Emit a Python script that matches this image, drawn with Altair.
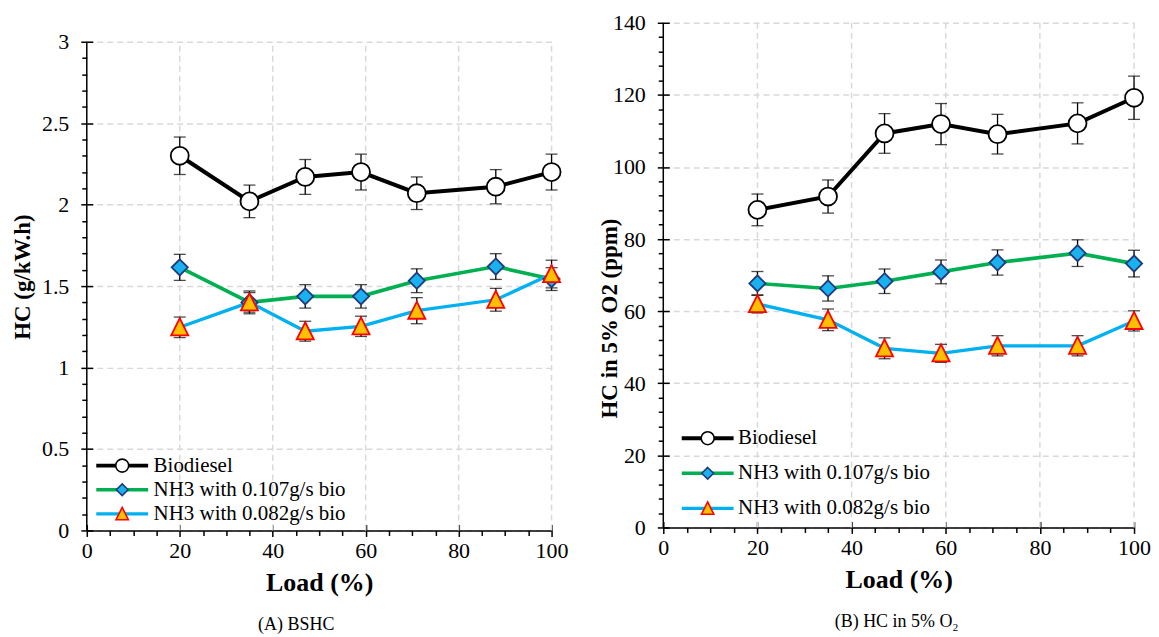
import altair as alt
import pandas as pd

loads = [20, 35, 47, 59, 71, 88, 100]
names = ["Biodiesel", "NH3 with 0.107g/s bio", "NH3 with 0.082g/s bio"]

# Panel A: BSHC (g/kW.h)
bshc_bio = [2.30, 2.02, 2.17, 2.20, 2.07, 2.11, 2.20]
bshc_bio_err = [0.115, 0.10, 0.107, 0.11, 0.10, 0.105, 0.11]
bshc_107 = [1.615, 1.40, 1.437, 1.437, 1.533, 1.62, 1.543]
bshc_107_err = [0.08, 0.07, 0.072, 0.072, 0.073, 0.079, 0.07]
bshc_082 = [1.247, 1.40, 1.223, 1.253, 1.349, 1.416, 1.574]
bshc_082_err = [0.063, 0.06, 0.061, 0.062, 0.08, 0.07, 0.085]

# Panel B: HC in 5% O2 (ppm)
hc_bio = [88.1, 91.8, 109.3, 111.9, 109.1, 112.1, 119.2]
hc_bio_err = [4.4, 4.6, 5.5, 5.7, 5.5, 5.7, 6.0]
hc_107 = [67.7, 66.3, 68.3, 70.9, 73.5, 76.1, 73.2]
hc_107_err = [3.3, 3.5, 3.4, 3.3, 3.5, 3.7, 3.7]
hc_082 = [62.0, 57.6, 49.7, 48.3, 50.4, 50.4, 57.3]
hc_082_err = [2.5, 3.0, 2.9, 2.5, 2.8, 2.8, 2.8]

x_major = [0, 20, 40, 60, 80, 100]
x_minor = [v for v in range(5, 100, 5) if v % 20]
ya_major = [0, 0.5, 1, 1.5, 2, 2.5, 3]
ya_minor = [round(i * 0.1, 1) for i in range(1, 30) if i % 5]
yb_major = list(range(0, 141, 20))
yb_minor = [v for v in range(4, 140, 4) if v % 20]

line_colors = ["#000000", "#00b050", "#00b0f0"]
line_widths = [4, 3.3, 3.3]
fill_colors = ["#ffffff", "#1ab2ee", "#ffc000"]
stroke_colors = ["#000000", "#1f3a7d", "#ff0000"]
shapes = [
    "M1,0A1,1 0 1,1 -1,0A1,1 0 1,1 1,0Z",
    "M0,-0.9L0.9,0L0,0.9L-0.9,0Z",
    "M0,-1L0.95,0.9L-0.95,0.9Z",
]

FONT = "Liberation Serif"
GRID = "#d9d9d9"


def panel(vals, errs, ymax, yscale_top, ymaj, ymin, yfmt, ytitle, caption,
          cap_dx, w, h, leg_x, leg_y, row_pad, lab_off, ytitle_x,
          ytitle_y=None):
    pt_names = [n + " " for n in names]
    rows = []
    for name, pn, v, e in zip(names, pt_names, vals, errs):
        for l, y, d in zip(loads, v, e):
            rows.append({"load": l, "val": y, "lo": y - d, "hi": y + d,
                         "series": name, "Series": pn})
    df = pd.DataFrame(rows)
    base = alt.Chart(df)

    def xs():
        return alt.Scale(domain=[0, 100], nice=False, zero=False)

    def ys():
        return alt.Scale(domain=[0, yscale_top], nice=False, zero=False)

    ytitle_kw = {"titleX": ytitle_x}
    if ytitle_y is not None:
        ytitle_kw["titleY"] = ytitle_y

    main_x = alt.Axis(orient="bottom", values=x_major, title="Load (%)",
                      titleFontSize=26, titlePadding=8, labelPadding=4,
                      tickSize=6, grid=False, labelFlush=False)
    main_y = alt.Axis(orient="left", values=ymaj, format=yfmt, title=ytitle,
                      titleFontSize=23, labelPadding=12, tickSize=6,
                      grid=True, domain=False, **ytitle_kw)
    minor_x = alt.Axis(orient="bottom", values=x_minor, labels=False,
                       grid=False, domain=False, tickSize=5, title=None)
    minor_y = alt.Axis(orient="left", values=ymin, labels=False,
                       grid=False, domain=False, tickSize=5, title=None)
    inner_x = alt.Axis(orient="bottom", values=x_major, labels=False,
                       grid=False, domain=False, tickSize=6, offset=-6,
                       title=None)
    inner_y = alt.Axis(orient="left", values=ymaj, labels=False,
                       grid=False, domain=False, tickSize=6, offset=-6,
                       title=None)

    leg_common = dict(orient="none", legendX=leg_x, legendY=leg_y,
                      title=None, symbolSize=169, labelFont=FONT,
                      labelFontSize=21, labelColor="black", labelLimit=0,
                      labelOffset=lab_off, rowPadding=row_pad, padding=0)
    line_leg = alt.Legend(symbolType="M-4,0H4", symbolStrokeWidth=3.5,
                          **leg_common)
    # marker-only legend drawn over the line legend (its labels are empty)
    pt_leg = alt.Legend(symbolStrokeWidth=1.6, labelExpr="''", **leg_common)

    # vertical dashed grid lines (stop at the top tick value)
    gdf = pd.DataFrame({"g": x_major[1:]})
    vgrid = alt.Chart(gdf).mark_rule(color=GRID, strokeWidth=1.5,
                                     strokeDash=[6, 4]).encode(
        x=alt.X("g:Q", scale=xs(), axis=None),
        y=alt.Y(datum=0, scale=ys(), axis=None),
        y2=alt.Y2(datum=ymax),
    )
    # y axis line from 0 to the top tick value
    yline = alt.Chart(pd.DataFrame({"g": [0]})).mark_rule(
        color="black", strokeWidth=1.5).encode(
        x=alt.X("g:Q", scale=xs(), axis=None),
        y=alt.Y(datum=0, scale=ys(), axis=None),
        y2=alt.Y2(datum=ymax),
    )

    line = base.mark_line().encode(
        x=alt.X("load:Q", scale=xs(), axis=main_x),
        y=alt.Y("val:Q", scale=ys(), axis=main_y),
        color=alt.Color("series:N",
                        scale=alt.Scale(domain=names, range=line_colors),
                        legend=line_leg),
        strokeWidth=alt.StrokeWidth(
            "series:N", scale=alt.Scale(domain=names, range=line_widths),
            legend=None),
    )
    rule = base.mark_rule(color="black", strokeWidth=1.3).encode(
        x=alt.X("load:Q", scale=xs(), axis=minor_x),
        y=alt.Y("lo:Q", scale=ys(), axis=minor_y),
        y2="hi:Q",
    )
    cap_lo = base.mark_tick(orient="horizontal", size=12, thickness=1.3,
                            color="black").encode(
        x=alt.X("load:Q", scale=xs(), axis=inner_x),
        y=alt.Y("lo:Q", scale=ys(), axis=inner_y),
    )
    cap_hi = base.mark_tick(orient="horizontal", size=12, thickness=1.3,
                            color="black").encode(
        x=alt.X("load:Q", scale=xs(), axis=None),
        y=alt.Y("hi:Q", scale=ys(), axis=None),
    )
    pts = base.mark_point(filled=True, size=324, strokeWidth=1.8,
                          opacity=1).encode(
        x=alt.X("load:Q", scale=xs(), axis=None),
        y=alt.Y("val:Q", scale=ys(), axis=None),
        fill=alt.Fill("Series:N",
                      scale=alt.Scale(domain=pt_names, range=fill_colors),
                      legend=pt_leg),
        stroke=alt.Stroke("Series:N",
                          scale=alt.Scale(domain=pt_names,
                                          range=stroke_colors),
                          legend=pt_leg),
        shape=alt.Shape("Series:N",
                        scale=alt.Scale(domain=pt_names, range=shapes),
                        legend=pt_leg),
    )
    return alt.layer(vgrid, yline, line, rule, cap_lo, cap_hi,
                     pts).resolve_scale(
        x="independent", y="independent"
    ).properties(
        width=w, height=h,
        title=alt.TitleParams(caption, orient="bottom", anchor="middle",
                              font=FONT, fontSize=18, fontWeight="normal",
                              color="black", offset=21, dx=cap_dx),
    )


left = panel([bshc_bio, bshc_107, bshc_082],
             [bshc_bio_err, bshc_107_err, bshc_082_err],
             3, 3 * 509 / 490, ya_major, ya_minor, "~g", "HC (g/kW.h)",
             "(A) BSHC", -23,
             466, 509, 25, 433.5, 2.2, 21, -52.7)
right = panel([hc_bio, hc_107, hc_082],
              [hc_bio_err, hc_107_err, hc_082_err],
              140, 140, yb_major, yb_minor, "d", "HC in 5% O2 (ppm)",
              "(B) HC in 5% O\u2082", -2,
              472, 506, 34, 406, 13.2, 20, -42, ytitle_y=296)

chart = alt.hconcat(left, right, spacing=30).resolve_scale(
    color="independent", fill="independent", stroke="independent",
    shape="independent", strokeWidth="independent",
).properties(
    padding={"left": 3, "top": 3, "right": 0, "bottom": 0},
    background="white",
).configure(font=FONT).configure_view(stroke=None).configure_axis(
    labelFont=FONT, labelFontSize=22, labelColor="black",
    titleFont=FONT, titleColor="black", titleFontWeight="bold",
    tickColor="black", tickWidth=1.5, domainColor="black", domainWidth=1.5,
    gridColor=GRID, gridDash=[6, 4], gridWidth=1.5,
).configure_legend(
    labelFont=FONT, labelColor="black",
)

chart.save("out.html", embed_options={"renderer": "svg", "actions": False})
